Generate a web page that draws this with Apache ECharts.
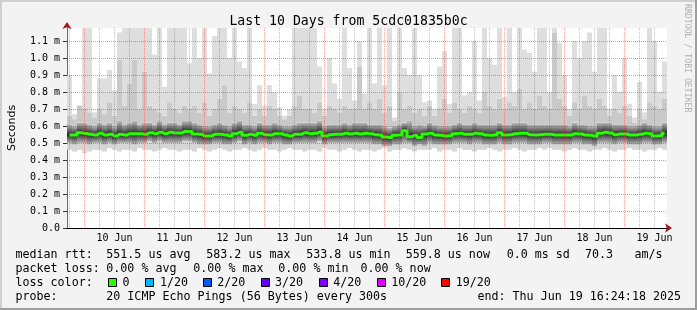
<!DOCTYPE html>
<html>
<head>
<meta charset="utf-8">
<script src="https://cdn.jsdelivr.net/npm/echarts@6.0.0/dist/echarts.min.js"></script>
<style>
html,body{margin:0;padding:0;background:#f3f3f3;}
#wrap{position:relative;width:697px;height:310px;overflow:hidden;}
#chart{position:absolute;left:0;top:0;width:697px;height:310px;}
.b{position:absolute;pointer-events:none;}
</style>
</head>
<body>
<div id="wrap">
  <div id="chart"></div>
  <div class="b" style="left:0;top:0;width:697px;height:2px;background:#cfcfcf"></div>
  <div class="b" style="left:0;top:0;width:2px;height:310px;background:#cfcfcf"></div>
  <div class="b" style="right:0;top:0;width:2px;height:310px;background:#9e9e9e"></div>
  <div class="b" style="left:0;bottom:0;width:697px;height:2px;background:#9e9e9e"></div>
</div>
<script>
// ---------------- data (values in ms) ----------------
const dayLabels = ['10 Jun','11 Jun','12 Jun','13 Jun','14 Jun','15 Jun','16 Jun','17 Jun','18 Jun','19 Jun'];
const xStartHour = -7;   // plot start, hours relative to 10 Jun 00:00
const xEndHour = 233;    // plot end
const gridFirstHour = -6, gridLastHour = 228;  // first / last 6-hour grid line
const yTop = 1.17647;    // top of the canvas (ms)

// median rtt per 2-hour column
const md = [
0.547,0.547,0.560,0.556,0.551,0.547,0.557,0.547,0.551,0.541,0.551,0.547,0.555,0.555,0.555,0.551,0.561,0.555,0.563,0.555,0.563,0.559,0.559,0.567,
0.567,0.553,0.551,0.541,0.541,0.551,0.551,0.547,0.541,0.555,0.563,0.545,0.551,0.545,0.557,0.549,0.547,0.555,0.555,0.547,0.541,0.551,0.551,0.561,
0.555,0.557,0.565,0.541,0.549,0.551,0.551,0.557,0.553,0.557,0.553,0.557,0.555,0.549,0.547,0.535,0.533,0.545,0.547,0.572,0.537,0.545,0.533,0.553,
0.557,0.547,0.545,0.541,0.543,0.555,0.557,0.551,0.551,0.557,0.555,0.547,0.545,0.547,0.561,0.547,0.549,0.555,0.557,0.557,0.549,0.547,0.549,0.551,
0.551,0.547,0.547,0.547,0.547,0.555,0.553,0.547,0.545,0.539,0.557,0.563,0.559,0.549,0.553,0.553,0.547,0.547,0.551,0.557,0.555,0.541,0.543,0.557];
// lowest ping
const mn = [
0.46,0.45,0.46,0.44,0.45,0.46,0.46,0.45,0.47,0.46,0.45,0.46,0.46,0.45,0.47,0.46,0.46,0.45,0.46,0.47,0.46,0.46,0.45,0.46,
0.46,0.45,0.47,0.46,0.45,0.46,0.47,0.46,0.45,0.46,0.46,0.47,0.46,0.45,0.46,0.47,0.46,0.46,0.45,0.46,0.47,0.46,0.46,0.45,
0.46,0.46,0.45,0.47,0.46,0.46,0.45,0.46,0.47,0.46,0.45,0.46,0.46,0.45,0.46,0.47,0.45,0.46,0.46,0.47,0.46,0.45,0.46,0.46,
0.46,0.47,0.45,0.46,0.46,0.45,0.47,0.46,0.46,0.45,0.46,0.46,0.47,0.46,0.45,0.46,0.46,0.47,0.46,0.45,0.46,0.46,0.47,0.46,
0.47,0.46,0.46,0.45,0.46,0.47,0.46,0.46,0.45,0.46,0.46,0.47,0.46,0.45,0.46,0.46,0.47,0.46,0.46,0.45,0.46,0.46,0.47,0.46];
// lower edge of the dense smoke
const lo = [
0.50,0.49,0.50,0.50,0.49,0.50,0.50,0.49,0.50,0.49,0.50,0.50,0.50,0.49,0.50,0.50,0.51,0.50,0.51,0.50,0.50,0.50,0.50,0.51,
0.51,0.50,0.49,0.49,0.49,0.50,0.50,0.49,0.49,0.50,0.51,0.49,0.50,0.49,0.50,0.50,0.49,0.50,0.50,0.49,0.49,0.50,0.50,0.50,
0.50,0.50,0.51,0.49,0.50,0.50,0.50,0.50,0.50,0.50,0.50,0.50,0.50,0.49,0.49,0.48,0.48,0.49,0.49,0.50,0.50,0.48,0.49,0.48,
0.50,0.49,0.49,0.49,0.49,0.50,0.50,0.50,0.49,0.50,0.50,0.49,0.49,0.49,0.50,0.49,0.49,0.50,0.50,0.50,0.49,0.49,0.49,0.50,
0.50,0.49,0.49,0.49,0.49,0.50,0.50,0.49,0.49,0.48,0.50,0.50,0.50,0.49,0.50,0.50,0.49,0.49,0.49,0.50,0.50,0.49,0.49,0.50];
// upper edge of the dense smoke
const hi = [
0.61,0.60,0.62,0.62,0.61,0.60,0.62,0.61,0.62,0.60,0.63,0.61,0.62,0.63,0.61,0.62,0.62,0.61,0.63,0.61,0.62,0.62,0.61,0.63,
0.63,0.62,0.61,0.60,0.60,0.61,0.62,0.61,0.60,0.62,0.63,0.61,0.61,0.60,0.62,0.61,0.61,0.62,0.61,0.60,0.60,0.61,0.62,0.62,
0.62,0.62,0.63,0.60,0.61,0.61,0.61,0.62,0.61,0.62,0.62,0.62,0.61,0.61,0.61,0.60,0.59,0.60,0.61,0.62,0.63,0.60,0.61,0.60,
0.62,0.61,0.60,0.60,0.60,0.61,0.62,0.61,0.61,0.62,0.61,0.61,0.61,0.61,0.62,0.61,0.61,0.62,0.62,0.62,0.61,0.61,0.61,0.61,
0.61,0.61,0.61,0.61,0.60,0.62,0.61,0.61,0.60,0.60,0.62,0.62,0.62,0.61,0.61,0.61,0.60,0.60,0.61,0.62,0.61,0.60,0.60,0.62];
// second highest ping
const p2 = [
0.66,0.64,0.72,0.70,0.68,0.65,0.70,0.67,0.74,0.66,0.99,0.72,0.85,0.99,0.70,0.92,0.72,0.70,0.68,0.66,0.74,0.70,0.68,0.72,
0.70,0.72,0.68,0.74,0.66,0.70,0.76,0.84,0.68,0.72,0.70,0.68,0.74,0.66,0.70,0.66,0.72,0.70,0.66,0.64,0.66,0.72,0.78,0.70,
0.70,0.68,0.74,0.66,0.72,0.70,0.68,0.72,0.70,0.70,0.95,0.70,0.74,0.70,0.76,0.68,0.72,0.63,0.80,0.70,0.72,0.68,0.70,0.66,
0.72,0.66,0.70,0.76,0.68,0.74,0.70,0.68,0.72,0.70,0.68,0.80,0.72,0.70,0.76,0.70,0.74,0.72,0.82,0.70,0.74,0.70,0.78,0.72,
0.70,1.15,0.76,0.72,0.66,0.74,0.70,0.78,0.72,0.70,0.76,0.72,0.66,0.70,0.68,0.72,0.66,0.62,0.70,0.64,0.74,0.72,0.70,0.76];
// highest ping
const mx = [
0.90,0.67,0.72,1.25,1.25,0.68,0.88,0.88,0.93,0.81,1.15,1.25,1.25,1.25,1.25,1.25,1.25,1.02,1.25,0.83,1.25,1.25,1.25,1.25,
0.97,1.25,1.00,1.25,0.91,1.13,1.25,1.25,1.00,1.20,0.98,0.94,1.25,0.73,0.84,0.72,0.84,0.80,0.71,0.66,0.70,1.25,1.25,1.25,
1.25,1.25,0.95,0.70,1.00,0.85,0.76,1.25,0.94,0.75,1.10,0.79,1.25,0.85,1.25,0.84,1.25,0.65,1.25,0.94,0.90,1.25,0.90,0.74,
0.75,0.70,0.95,1.04,0.73,1.25,1.20,0.78,0.80,1.10,0.75,1.25,1.00,0.96,1.25,0.77,1.25,0.80,1.20,1.05,1.03,0.92,1.25,1.25,
0.80,1.25,1.09,0.90,0.70,1.10,1.00,1.10,1.15,0.92,1.25,1.25,0.70,0.90,0.80,1.00,0.73,0.65,0.86,0.68,1.25,1.10,0.80,0.98];

const cats = md.map((_, i) => 'c' + i);

const lossLabels = ['0','1/20','2/20','3/20','4/20','10/20','19/20'];
const lossColors = ['#26ff00','#00b8ff','#0059ff','#5e00ff','#7e00ff','#dd00ff','#ff0000'];

// ---------------- chart ----------------
const seg = (a, b) => a.map((v, i) => Math.max(0, +(b[i] - v).toFixed(4)));
const grad = (top, bottom) => ({type:'linear', x:0, y:0, x2:0, y2:1,
  colorStops:[{offset:0, color:top},{offset:1, color:bottom}]});

const RED_V = 'rgba(235,40,40,0.42)';
const RED_H = 'rgba(240,30,30,0.5)';
const GREY = 'rgba(100,100,100,0.42)';

// plot geometry
const PL = 67, PR = 30, PT = 28, PB = 82, PW = 600;
const hx = h => PL + (h - xStartHour) / (xEndHour - xStartHour) * PW;
const gLeft = hx(gridFirstHour), gRight = 697 - hx(gridLastHour);

const LFS = 11.66;
const txt = (x, y, s) => ({type:'text', x, y, silent:true,
  style:{text:s, fontFamily:'DejaVu Sans Mono', fontSize:LFS, fill:'#000', align:'left', verticalAlign:'middle'}});
const rows = [258, 272, 286, 300].map(b => b - 3.5);
const graphics = [
  txt(15.5, rows[0], 'median rtt:'), txt(106.3, rows[0], '551.5 us avg'), txt(206.3, rows[0], '583.2 us max'),
  txt(306.3, rows[0], '533.8 us min'), txt(405.7, rows[0], '559.8 us now'), txt(506.7, rows[0], '0.0 ms sd'),
  txt(585, rows[0], '70.3'), txt(634.5, rows[0], 'am/s'),
  txt(15.5, rows[1], 'packet loss:'), txt(106.3, rows[1], '0.00 % avg'), txt(193.3, rows[1], '0.00 % max'),
  txt(278.3, rows[1], '0.00 % min'), txt(360.5, rows[1], '0.00 % now'),
  txt(15.5, rows[2], 'loss color:'),
  txt(15.5, rows[3], 'probe:'), txt(106.3, rows[3], '20 ICMP Echo Pings (56 Bytes) every 300s'),
  txt(477.5, rows[3], 'end: Thu Jun 19 16:24:18 2025'),
  {type:'text', x:687, y:4, rotation:-Math.PI/2, silent:true,
   style:{text:'RRDTOOL / TOBI OETIKER', fontFamily:'DejaVu Sans Mono', fontSize:8.2, fill:'#b0b0b0', align:'left', verticalAlign:'middle'}}
];
const boxX = [108.5, 145.5, 203.5, 261.5, 319.5, 377.5, 441.5];
const labX = [122.5, 160, 217.3, 275, 333.3, 391.3, 455.7];
lossLabels.forEach((l, i) => {
  graphics.push({type:'rect', silent:true, shape:{x:boxX[i], y:278.5, width:8, height:8},
    style:{fill:lossColors[i], stroke:'#000', lineWidth:1}});
  graphics.push(txt(labX[i], rows[2], l));
});

const chart = echarts.init(document.getElementById('chart'), null, {renderer:'canvas'});
chart.setOption({
  animation:false,
  backgroundColor:'#f3f3f3',
  title:{text:'Last 10 Days from 5cdc01835b0c', left:'center', top:10,
    textStyle:{fontFamily:'DejaVu Sans Mono', fontSize:13.2, fontWeight:'normal', color:'#000'}},
  grid:[
    {left:PL, right:PR, top:PT, bottom:PB, show:true, backgroundColor:'#ffffff', borderWidth:0, outerBoundsMode:'none', containLabel:false},
    {left:PL, right:PR, top:41, bottom:PB, outerBoundsMode:'none', containLabel:false},
    {left:gLeft, right:gRight, top:PT, bottom:PB, outerBoundsMode:'none', containLabel:false}
  ],
  xAxis:[
    {type:'category', gridIndex:0, data:cats, position:'bottom', boundaryGap:true,
     axisLine:{show:true, onZero:false, symbol:['none','arrow'], symbolSize:[7,7], symbolOffset:[0,5],
       lineStyle:{color:'#a01818', width:0}},
     axisTick:{show:false}, axisLabel:{show:false}, splitLine:{show:false}},
    {type:'value', gridIndex:0, min:xStartHour, max:xEndHour, position:'bottom', z:11,
     axisLine:{show:true, onZero:false, lineStyle:{color:'#000', width:1}},
     axisTick:{show:false}, splitLine:{show:false},
     axisLabel:{show:true, customValues: dayLabels.map((_, i) => 12 + 24 * i), margin:5,
       formatter: v => dayLabels[Math.round((v - 12) / 24)] || '',
       fontFamily:'DejaVu Sans Mono', fontSize:10, color:'#000'}},
    {type:'value', gridIndex:1, min:xStartHour, max:xEndHour, show:false},
    {type:'value', gridIndex:2, min:gridFirstHour, max:gridLastHour, interval:6, position:'bottom', z:9,
     axisLine:{show:false}, axisTick:{show:false}, axisLabel:{show:false},
     splitLine:{show:true, lineStyle:{color:[GREY, RED_V, GREY, GREY], type:[1,1], width:1}}}
  ],
  yAxis:[
    {type:'value', gridIndex:0, min:0, max:yTop, position:'left',
     name:'Seconds', nameLocation:'middle', nameGap:49, nameRotate:90,
     nameTextStyle:{fontFamily:'DejaVu Sans', fontSize:11, color:'#000'},
     axisLine:{show:true, onZero:false, lineStyle:{color:'#666', width:1}},
     axisTick:{show:false}, axisLabel:{show:false}, splitLine:{show:false}},
    {type:'value', gridIndex:1, min:0, max:1.1, interval:0.1, position:'left', z:10,
     axisLine:{show:false, onZero:false},
     axisTick:{show:true, length:4, lineStyle:{color:'#333'}},
     axisLabel:{margin:7, fontFamily:'DejaVu Sans Mono', fontSize:10, color:'#000',
       formatter: v => v === 0 ? '0.0' : v.toFixed(1) + ' m'},
     splitLine:{show:true, showMinLine:false, lineStyle:{color:[RED_H], type:[1,1], width:1}}},
    {type:'value', gridIndex:0, min:0, max:yTop, position:'left', offset:0,
     axisLine:{show:true, onZero:false, symbol:['none','arrow'], symbolSize:[7,7], symbolOffset:[0,6],
       lineStyle:{color:'#a01818', width:0}},
     axisTick:{show:false}, axisLabel:{show:false}, splitLine:{show:false}},
    {type:'value', gridIndex:2, min:0, max:1, show:false}
  ],
  series:[
    {type:'bar', stack:'s', xAxisIndex:0, yAxisIndex:0, data:mn, barCategoryGap:'0%', clip:true, silent:true,
     itemStyle:{color:'rgba(0,0,0,0)'}},
    {type:'bar', stack:'s', xAxisIndex:0, yAxisIndex:0, data:seg(mn, lo), barCategoryGap:'0%', clip:true, silent:true,
     itemStyle:{color:'#d6d6d6'}},
    {type:'bar', stack:'s', xAxisIndex:0, yAxisIndex:0, data:seg(lo, md), barCategoryGap:'0%', clip:true, silent:true,
     itemStyle:{color:grad('#262626', '#b8b8b8')}},
    {type:'bar', stack:'s', xAxisIndex:0, yAxisIndex:0, data:seg(md, hi), barCategoryGap:'0%', clip:true, silent:true,
     itemStyle:{color:grad('#bcbcbc', '#262626')}},
    {type:'bar', stack:'s', xAxisIndex:0, yAxisIndex:0, data:seg(hi, p2), barCategoryGap:'0%', clip:true, silent:true,
     itemStyle:{color:'#c9c9c9'}},
    {type:'bar', stack:'s', xAxisIndex:0, yAxisIndex:0, data:seg(p2, mx), barCategoryGap:'0%', clip:true, silent:true,
     itemStyle:{color:'#dedede'}},
    {type:'line', xAxisIndex:0, yAxisIndex:0, data:md, step:'middle', symbol:'none', z:6, silent:true,
     lineStyle:{color:'#26ff00', width:3}}
  ],
  graphic: graphics
});
</script>
</body>
</html>
